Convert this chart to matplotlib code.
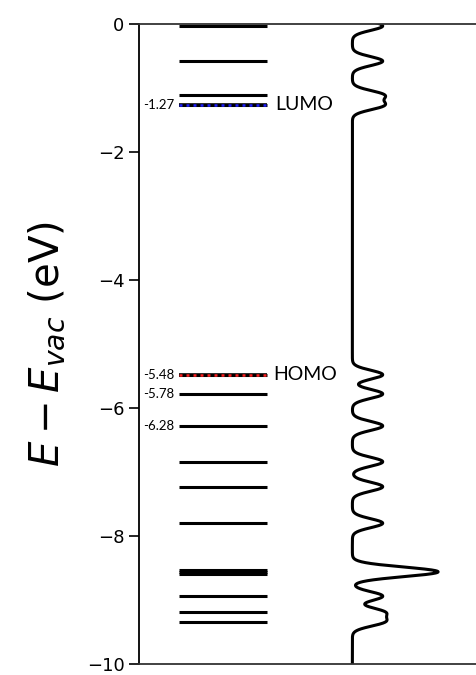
import matplotlib
matplotlib.use('Agg')
import matplotlib.pyplot as plt
import numpy as np

# Molecular orbital energies (eV, relative to vacuum)
levels = [-0.03, -0.58, -1.11, -1.27, -5.48, -5.78, -6.28, -6.84, -7.23,
          -7.80, -8.53, -8.56, -8.59, -8.94, -9.19, -9.34]
lumo = -1.27
homo = -5.48
labelled = [-1.27, -5.48, -5.78, -6.28]
yticks = [0, -2, -4, -6, -8, -10]

# Gaussian broadened density of states built from the levels
sigma = 0.07
dos_offset = 1.97
dos_scale = 0.345

fig = plt.figure(figsize=(4.77, 6.75), dpi=100)
ax = fig.add_axes([139 / 477, 1 - 664 / 675, 1 - 139 / 477, (664 - 24) / 675])

for e in levels:
    ax.plot([0, 1], [e, e], color='black', lw=2.2, solid_capstyle='butt', zorder=2)

# LUMO / HOMO highlight
ax.plot([0, 1], [lumo, lumo], color='black', lw=2.6, solid_capstyle='butt', zorder=3)
ax.plot([0, 1], [lumo, lumo], color='#1f1fff', lw=1.8, ls=(0, (1.2, 1.6)), zorder=4)
ax.plot([0, 1], [homo, homo], color='black', lw=2.6, solid_capstyle='butt', zorder=3)
ax.plot([0, 1], [homo, homo], color='#ff2020', lw=1.8, ls=(0, (1.2, 1.6)), zorder=4)

for e in labelled:
    ax.text(-0.05, e, f'{e:.2f}', ha='right', va='center', fontsize=9.5,
            family='Lato', color='black')
ax.text(1.09, lumo + 0.02, 'LUMO', ha='left', va='center', fontsize=14, family='Lato')
ax.text(1.07, homo, 'HOMO', ha='left', va='center', fontsize=14, family='Lato')

# DOS curve
y = np.linspace(-10, 0.3, 3000)
dos = np.zeros_like(y)
for e in levels:
    dos += np.exp(-(y - e) ** 2 / (2 * sigma ** 2))
ax.plot(dos_offset + dos_scale * dos, y, color='black', lw=2.2, zorder=2)

ax.set_xlim(-40 / 88, (477 - 179) / 88)
ax.set_ylim(-10, 0)
ax.set_yticks(yticks)
ax.set_yticklabels(['0' if t == 0 else f'\u2212{abs(t)}' for t in yticks])
ax.tick_params(axis='y', labelsize=13, length=7, width=1.2, direction='out')
ax.set_xticks([])
ax.spines['right'].set_visible(False)
for s in ['left', 'top', 'bottom']:
    ax.spines[s].set_linewidth(1.3)
ax.spines['top'].set_color('#333333')
ax.spines['bottom'].set_color('#333333')
ax.set_ylabel(r'$E - E_{vac}$ (eV)', fontsize=29, labelpad=14)

fig.savefig('out.png', dpi=100)
